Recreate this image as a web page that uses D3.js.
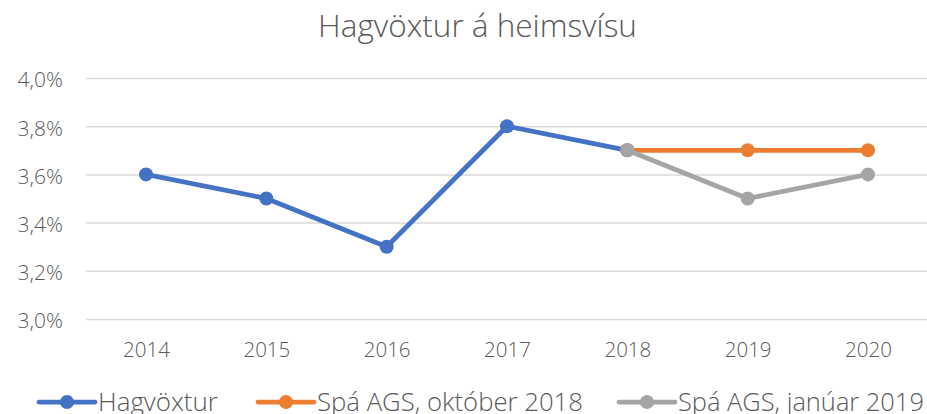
<!DOCTYPE html>
<html><head><meta charset="utf-8">
<script src="https://cdn.jsdelivr.net/npm/d3@7"></script>
<style>body{margin:0;background:#fff}svg{display:block}text{font-family:"Open Sans",sans-serif;font-weight:300;fill:#595959}</style>
</head><body><svg id="c" width="927" height="414"></svg>
<script>
const years = ["2014","2015","2016","2017","2018","2019","2020"];
const hagvoxtur = [3.6,3.5,3.3,3.8,3.7,null,null];
const spaOkt = [null,null,null,null,3.7,3.7,3.7];
const spaJan = [null,null,null,null,3.7,3.5,3.6];
const yTicks = [3.0,3.2,3.4,3.6,3.8,4.0];
const seriesNames = ["Hagvöxtur","Spá AGS, október 2018","Spá AGS, janúar 2019"];
const colors = ["#4472c4","#ed7d31","#a5a5a5"];
const title = "Hagvöxtur á heimsvísu";

const svg = d3.select("#c");
const x = d3.scalePoint().domain(years).range([146,868]);
const y = d3.scaleLinear().domain([3.0,4.0]).range([319,78]);

function fit(sel, w){
  sel.each(function(){
    const s = parseFloat(this.style.fontSize);
    const len = this.getComputedTextLength();
    this.style.fontSize = (s*w/len)+"px";
  });
}

svg.append("text").attr("x",477.5).attr("y",37).attr("text-anchor","middle")
  .style("font-size","28px").text(title).call(fit,319);

const yAxis = svg.append("g").attr("transform","translate(86,0)")
  .call(d3.axisLeft(y).tickValues(yTicks).tickSize(-843).tickFormat(d=>d.toFixed(1).replace(".",",")+"%"));
yAxis.select(".domain").remove();
yAxis.selectAll("line").attr("stroke","#d9d9d9").attr("stroke-width",1.5);
yAxis.selectAll("text").attr("x",-23).attr("dy","0.42em").style("font-size","21px").attr("fill","#595959");

const xAxis = svg.append("g").attr("transform","translate(0,319)")
  .call(d3.axisBottom(x).tickSize(0));
xAxis.select(".domain").remove();
xAxis.selectAll("text").attr("y",38).attr("dy","0").style("font-size","20.5px").attr("fill","#595959");

const all = [hagvoxtur,spaOkt,spaJan];
const line = d3.line().defined(d=>d.v!=null).x(d=>x(d.k)).y(d=>y(d.v));
all.forEach((s,i)=>{
  const pts = years.map((k,j)=>({k,v:s[j]}));
  svg.append("path").datum(pts).attr("d",line).attr("fill","none")
    .attr("stroke",colors[i]).attr("stroke-width",4.75).attr("stroke-linejoin","round");
  svg.selectAll(null).data(pts.filter(d=>d.v!=null)).enter().append("circle")
    .attr("cx",d=>x(d.k)).attr("cy",d=>y(d.v)).attr("r",7).attr("fill",colors[i]);
});

const legX = [38,257,618];
const legW = [120,266,246];
seriesNames.forEach((n,i)=>{
  const g = svg.append("g").attr("transform",`translate(${legX[i]},402)`);
  g.append("line").attr("x1",1).attr("x2",57).attr("stroke",colors[i]).attr("stroke-width",4.75).attr("stroke-linecap","round");
  g.append("circle").attr("cx",29).attr("r",7).attr("fill",colors[i]);
  g.append("text").attr("x",60).attr("y",8.5).style("font-size","25px").text(n).call(fit,legW[i]);
});
</script></body></html>
